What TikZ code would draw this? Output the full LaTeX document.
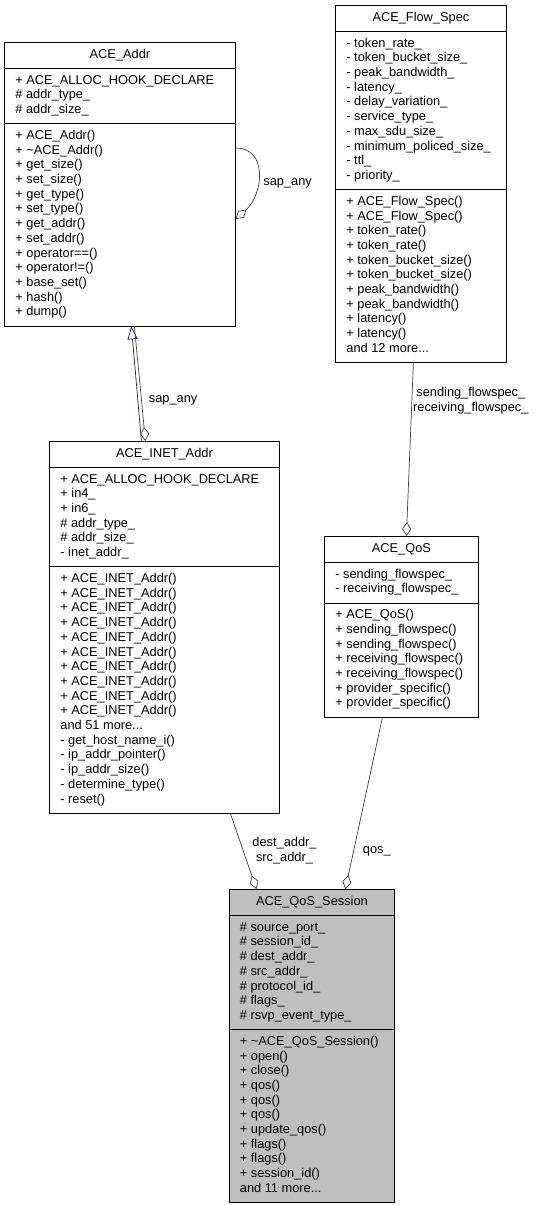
\documentclass[tikz,border=0pt]{standalone}
\usepackage{fontspec}
\setmainfont{Liberation Sans}
\usetikzlibrary{shapes.multipart,arrows.meta,positioning}
\definecolor{edgegray}{HTML}{404040}
\definecolor{inheritblue}{HTML}{191970}
\definecolor{classfill}{HTML}{BFBFBF}
\newcommand{\members}[1]{\begin{tabular}{@{}l@{}}#1\end{tabular}}

\begin{document}
\begin{tikzpicture}[x=1pt,y=-1pt,
	font=\fontsize{12.8}{14.7}\selectfont,
	classbox/.style={rectangle split,rectangle split parts=3,draw,line width=0.8pt,
		anchor=north west,inner xsep=11pt,inner ysep=5.2pt,
		rectangle split part align={center,left,left}},
	uses/.style={draw=edgegray,line width=0.7pt,-{Diamond[open,length=14pt,width=9pt]}},
	inherits/.style={draw=inheritblue,line width=0.7pt,-{Triangle[open,length=13pt,width=10pt]}},
	lbl/.style={inner sep=0pt,align=center}]
	\useasboundingbox (0,0) rectangle (536,1205);

	\node[classbox,minimum width=231pt] (addr) at (4,42)
		{\members{ACE\_Addr}
		\nodepart{two}\members{+ ACE\_ALLOC\_HOOK\_DECLARE\\\# addr\_type\_\\\# addr\_size\_}
		\nodepart{three}\members{+ ACE\_Addr()\\+ \textasciitilde ACE\_Addr()\\+ get\_size()\\+ set\_size()\\+ get\_type()\\+ set\_type()\\+ get\_addr()\\+ set\_addr()\\+ operator==()\\+ operator!=()\\+ base\_set()\\+ hash()\\+ dump()}};

	\node[classbox,minimum width=171pt] (flow) at (335,5)
		{\members{ACE\_Flow\_Spec}
		\nodepart{two}\members{- token\_rate\_\\- token\_bucket\_size\_\\- peak\_bandwidth\_\\- latency\_\\- delay\_variation\_\\- service\_type\_\\- max\_sdu\_size\_\\- minimum\_policed\_size\_\\- ttl\_\\- priority\_}
		\nodepart{three}\members{+ ACE\_Flow\_Spec()\\+ ACE\_Flow\_Spec()\\+ token\_rate()\\+ token\_rate()\\+ token\_bucket\_size()\\+ token\_bucket\_size()\\+ peak\_bandwidth()\\+ peak\_bandwidth()\\+ latency()\\+ latency()\\and 12 more...}};

	\node[classbox,minimum width=230pt] (inet) at (49,441)
		{\members{ACE\_INET\_Addr}
		\nodepart{two}\members{+ ACE\_ALLOC\_HOOK\_DECLARE\\+ in4\_\\+ in6\_\\\# addr\_type\_\\\# addr\_size\_\\- inet\_addr\_}
		\nodepart{three}\members{+ ACE\_INET\_Addr()\\+ ACE\_INET\_Addr()\\+ ACE\_INET\_Addr()\\+ ACE\_INET\_Addr()\\+ ACE\_INET\_Addr()\\+ ACE\_INET\_Addr()\\+ ACE\_INET\_Addr()\\+ ACE\_INET\_Addr()\\+ ACE\_INET\_Addr()\\+ ACE\_INET\_Addr()\\and 51 more...\\- get\_host\_name\_i()\\- ip\_addr\_pointer()\\- ip\_addr\_size()\\- determine\_type()\\- reset()}};

	\node[classbox,minimum width=154pt] (qos) at (324,536)
		{\members{ACE\_QoS}
		\nodepart{two}\members{- sending\_flowspec\_\\- receiving\_flowspec\_}
		\nodepart{three}\members{+ ACE\_QoS()\\+ sending\_flowspec()\\+ sending\_flowspec()\\+ receiving\_flowspec()\\+ receiving\_flowspec()\\+ provider\_specific()\\+ provider\_specific()}};

	\node[classbox,minimum width=165pt,inner xsep=10.5pt,fill=classfill] (session) at (229,889)
		{\members{ACE\_QoS\_Session}
		\nodepart{two}\members{\# source\_port\_\\\# session\_id\_\\\# dest\_addr\_\\\# src\_addr\_\\\# protocol\_id\_\\\# flags\_\\\# rsvp\_event\_type\_}
		\nodepart{three}\members{+ \textasciitilde ACE\_QoS\_Session()\\+ open()\\+ close()\\+ qos()\\+ qos()\\+ qos()\\+ update\_qos()\\+ flags()\\+ flags()\\+ session\_id()\\and 11 more...}};

	% sap_any on itself
	\draw[uses] ([yshift=-106pt]addr.north east) .. controls +(32,0) and +(28,-25) ..
		node[lbl,pos=0.6,right=6pt] {sap\_any} ([yshift=-177pt]addr.north east);

	\draw[inherits] ([xshift=-23pt]inet.north) -- ([xshift=11.5pt]addr.south);
	\draw[uses] ([xshift=14.5pt]addr.south) --
		node[lbl,pos=0.65,right=7pt] {sap\_any} ([xshift=-19pt]inet.north);

	\draw[uses] ([xshift=-7.5pt]flow.south) --
		node[lbl,pos=0.22,right=1pt] {sending\_flowspec\_\\receiving\_flowspec\_} ([xshift=5pt]qos.north);

	\draw[uses] ([xshift=66pt]inet.south) --
		node[lbl,pos=0.49,right=9pt] {dest\_addr\_\\src\_addr\_} ([xshift=-55.5pt]session.north);
	\draw[uses] ([xshift=-19pt]qos.south) --
		node[lbl,pos=0.78,right=9pt] {qos\_} ([xshift=33.5pt]session.north);

\end{tikzpicture}
\end{document}
